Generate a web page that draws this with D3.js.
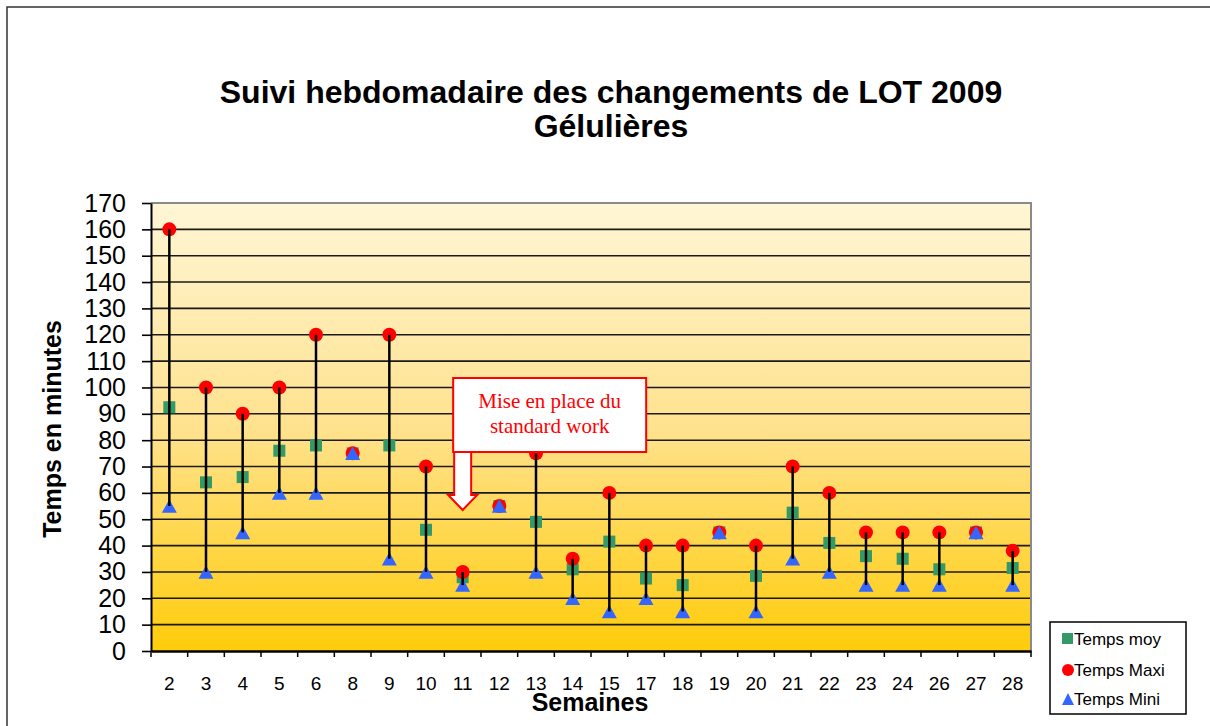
<!DOCTYPE html>
<html>
<head>
<meta charset="utf-8">
<script src="https://cdn.jsdelivr.net/npm/d3@7"></script>
<style>
  html, body { margin: 0; padding: 0; background: #fff; }
  svg { display: block; }
</style>
</head>
<body>
<svg id="chart" width="1210" height="726"></svg>
<script>
// Weekly lot-change times (minutes)
const weeks = ["2","3","4","5","6","8","9","10","11","12","13","14","15","17","18","19","20","21","22","23","24","26","27","28"];
const tempsMoy  = [92.5, 64, 66, 76, 78, 75, 78, 46, 28, 55, 49, 31, 41.5, 27.5, 25, 45, 28.5, 52.5, 41, 36, 35, 31, 45, 31.5];
const tempsMaxi = [160, 100, 90, 100, 120, 75, 120, 70, 30, 55, 75, 35, 60, 40, 40, 45, 40, 70, 60, 45, 45, 45, 45, 38];
const tempsMini = [55, 30, 45, 60, 60, 75, 35, 30, 25, 55, 30, 20, 15, 20, 15, 45, 15, 35, 30, 25, 25, 25, 45, 25];
const yTicks = d3.range(0, 171, 10);
const legendLabels = ["Temps moy", "Temps Maxi", "Temps Mini"];

const rows = weeks.map((w, i) => ({ w, moy: tempsMoy[i], max: tempsMaxi[i], min: tempsMini[i] }));

const svg = d3.select("#chart");
const SANS = "'Liberation Sans', Arial, sans-serif";
const SERIF = "'Liberation Serif', 'Times New Roman', serif";

const plot = { left: 151, right: 1031, top: 203, bottom: 651 };

const x = d3.scaleBand().domain(weeks).range([plot.left, plot.right]).padding(0);
const y = d3.scaleLinear().domain([0, 170]).range([plot.bottom, plot.top]);
const cx = w => x(w) + x.bandwidth() / 2;

// triangle marker centred vertically on its value
const triPath = (w, h) => `M0,${-h / 2}L${w / 2},${h / 2}L${-w / 2},${h / 2}Z`;

// outer chart frame
svg.append("rect")
  .attr("x", 7).attr("y", 7).attr("width", 1220).attr("height", 740)
  .attr("fill", "#fff").attr("stroke", "#333").attr("stroke-width", 1.5);

// background gradient of the plot area
const defs = svg.append("defs");
const grad = defs.append("linearGradient")
  .attr("id", "bg").attr("x1", 0).attr("y1", 0).attr("x2", 0).attr("y2", 1);
grad.append("stop").attr("offset", "0%").attr("stop-color", "#FFF6D6");
grad.append("stop").attr("offset", "50%").attr("stop-color", "#FFE28E");
grad.append("stop").attr("offset", "100%").attr("stop-color", "#FFCC0A");

svg.append("rect")
  .attr("x", plot.left).attr("y", plot.top)
  .attr("width", plot.right - plot.left).attr("height", plot.bottom - plot.top)
  .attr("fill", "url(#bg)");

// horizontal gridlines
svg.append("g").selectAll("line")
  .data(yTicks.filter(v => v > 0 && v < 170))
  .join("line")
  .attr("x1", plot.left).attr("x2", plot.right)
  .attr("y1", d => y(d)).attr("y2", d => y(d))
  .attr("stroke", "#1a1a1a").attr("stroke-width", 1.6);

// plot-area border (top and right)
svg.append("path")
  .attr("d", `M${plot.left},${y(170)}H${plot.right}V${plot.bottom}`)
  .attr("fill", "none").attr("stroke", "#8a8a8a").attr("stroke-width", 2);

// Y axis
const yAxis = svg.append("g")
  .attr("transform", `translate(${plot.left},0)`)
  .call(d3.axisLeft(y).tickValues(yTicks).tickSize(9).tickSizeOuter(0).tickPadding(16));
yAxis.select(".domain").attr("stroke", "#000").attr("stroke-width", 2);
yAxis.selectAll(".tick line").attr("stroke", "#000").attr("stroke-width", 1.6);
yAxis.selectAll(".tick text")
  .attr("font-family", SANS).attr("font-size", 25).attr("fill", "#000");

// X axis with ticks on category boundaries
const xAxis = svg.append("g")
  .attr("transform", `translate(0,${plot.bottom})`)
  .call(d3.axisBottom(x).tickSize(0).tickSizeOuter(0).tickPadding(0));
xAxis.select(".domain").attr("stroke", "#000").attr("stroke-width", 2.5);
xAxis.selectAll(".tick text")
  .attr("font-family", SANS).attr("font-size", 19).attr("fill", "#000")
  .attr("y", 38.5).attr("dy", 0);
const bounds = weeks.map(w => x(w)).concat([plot.right]);
xAxis.append("g").selectAll("line")
  .data(bounds).join("line")
  .attr("x1", d => d).attr("x2", d => d)
  .attr("y1", 0).attr("y2", 6)
  .attr("stroke", "#000").attr("stroke-width", 1.5);

// markers
const gMarks = svg.append("g");
gMarks.selectAll("rect.moy").data(rows).join("rect")
  .attr("class", "moy")
  .attr("x", d => cx(d.w) - 6).attr("y", d => y(d.moy) - 6)
  .attr("width", 12).attr("height", 12)
  .attr("fill", "#339966");
gMarks.selectAll("circle.max").data(rows).join("circle")
  .attr("class", "max")
  .attr("cx", d => cx(d.w)).attr("cy", d => y(d.max)).attr("r", 7)
  .attr("fill", "#FF0000");
gMarks.selectAll("path.min").data(rows).join("path")
  .attr("class", "min")
  .attr("transform", d => `translate(${cx(d.w)},${y(d.min)})`)
  .attr("d", triPath(15, 13.5))
  .attr("fill", "#3366FF");

// high-low lines from max to min
svg.append("g").selectAll("line").data(rows.filter(d => d.max !== d.min)).join("line")
  .attr("x1", d => cx(d.w)).attr("x2", d => cx(d.w))
  .attr("y1", d => y(d.max)).attr("y2", d => y(d.min))
  .attr("stroke", "#000").attr("stroke-width", 2.5);

// titles
const title = svg.append("text")
  .attr("text-anchor", "middle").attr("font-family", SANS)
  .attr("font-weight", "bold").attr("font-size", 32).attr("fill", "#000");
title.append("tspan").attr("x", 611).attr("y", 103).text("Suivi hebdomadaire des changements de LOT 2009");
title.append("tspan").attr("x", 611).attr("y", 137).text("Gélulières");

svg.append("text")
  .attr("x", 590).attr("y", 711).attr("text-anchor", "middle")
  .attr("font-family", SANS).attr("font-weight", "bold").attr("font-size", 25)
  .text("Semaines");

svg.append("text")
  .attr("transform", "translate(61,429) rotate(-90)")
  .attr("text-anchor", "middle")
  .attr("font-family", SANS).attr("font-weight", "bold").attr("font-size", 25)
  .text("Temps en minutes");

// annotation: standard work introduced at week 11
const ax = cx("11"), tipY = y(53.5);
const arrow = d3.path();
arrow.moveTo(ax - 8.5, tipY - 58);
arrow.lineTo(ax + 8.5, tipY - 58);
arrow.lineTo(ax + 8.5, tipY - 15);
arrow.lineTo(ax + 14.5, tipY - 15);
arrow.lineTo(ax, tipY);
arrow.lineTo(ax - 14.5, tipY - 15);
arrow.lineTo(ax - 8.5, tipY - 15);
arrow.closePath();
svg.append("path").attr("d", arrow.toString())
  .attr("fill", "#fff").attr("stroke", "#FF0000").attr("stroke-width", 2);

const boxX = ax - 9.5, boxY = tipY - 132, boxW = 193, boxH = 74;
svg.append("rect")
  .attr("x", boxX).attr("y", boxY).attr("width", boxW).attr("height", boxH)
  .attr("fill", "#fff").attr("stroke", "#FF0000").attr("stroke-width", 2);
const note = svg.append("text")
  .attr("text-anchor", "middle").attr("font-family", SERIF)
  .attr("font-size", 21).attr("fill", "#FF0000");
note.append("tspan").attr("x", boxX + boxW / 2).attr("y", boxY + 30).text("Mise en place du");
note.append("tspan").attr("x", boxX + boxW / 2).attr("y", boxY + 55).text("standard work");

// legend
const lg = svg.append("g").attr("transform", "translate(1050,622)");
lg.append("rect").attr("width", 136).attr("height", 92)
  .attr("fill", "#fff").attr("stroke", "#000").attr("stroke-width", 1.5);
const rowsY = [17, 48, 77];
lg.append("rect").attr("x", 12).attr("y", rowsY[0] - 6).attr("width", 11).attr("height", 11).attr("fill", "#339966");
lg.append("circle").attr("cx", 18).attr("cy", rowsY[1]).attr("r", 6).attr("fill", "#FF0000");
lg.append("path").attr("transform", `translate(18,${rowsY[2]})`)
  .attr("d", triPath(12, 12)).attr("fill", "#3366FF");
lg.selectAll("text.lbl").data(legendLabels).join("text")
  .attr("class", "lbl")
  .attr("x", 24).attr("y", (d, i) => rowsY[i] + 6)
  .attr("font-family", SANS).attr("font-size", 17).attr("fill", "#000")
  .text(d => d);
</script>
</body>
</html>
